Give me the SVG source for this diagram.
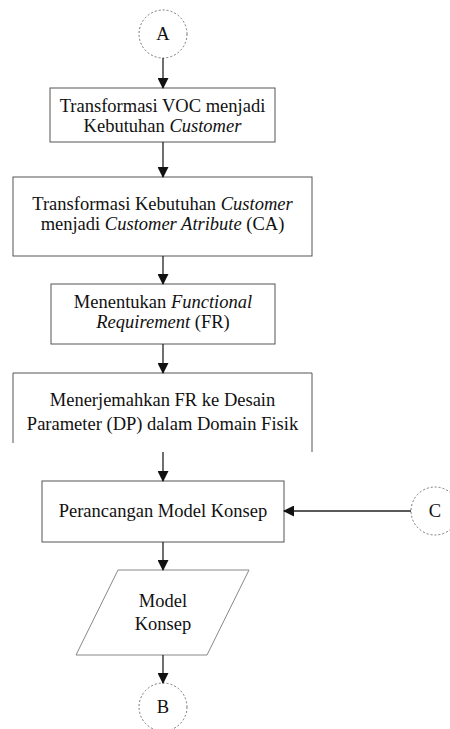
<svg xmlns="http://www.w3.org/2000/svg" width="450" height="729" viewBox="0 0 450 729">
<style>
  .box { fill: #ffffff; stroke: #555555; stroke-width: 1; }
  .term { fill: #ffffff; stroke: #777777; stroke-width: 1; stroke-dasharray: 2 2; }
  .io { fill: #ffffff; stroke: #888888; stroke-width: 1; }
  .lbl { font-family: "Liberation Serif", "Times New Roman", serif; font-size: 18.5px; fill: #111111; text-anchor: middle; }
  .it { font-style: italic; }
  .edge { stroke: #222222; stroke-width: 1.3; fill: none; marker-end: url(#arr); }
</style>
<defs>
  <marker id="arr" markerWidth="11" markerHeight="11" refX="10" refY="5.5" orient="auto" markerUnits="userSpaceOnUse">
    <path d="M0,0 L11,5.5 L0,11 Z" fill="#111111"/>
  </marker>
</defs>
<rect width="450" height="729" fill="#ffffff"/>

<g id="nodeA">
  <circle class="term" cx="163" cy="34" r="24"/>
  <text class="lbl" x="163" y="40">A</text>
</g>

<g id="node1">
  <rect class="box" x="50" y="88" width="225" height="54"/>
  <text class="lbl" x="162.5" y="112">Transformasi VOC menjadi</text>
  <text class="lbl" x="162.5" y="132">Kebutuhan <tspan class="it">Customer</tspan></text>
</g>

<g id="node2">
  <rect class="box" x="13" y="177" width="299" height="79"/>
  <text class="lbl" x="162.5" y="210">Transformasi Kebutuhan <tspan class="it">Customer</tspan></text>
  <text class="lbl" x="162.5" y="230">menjadi <tspan class="it">Customer Atribute</tspan> (CA)</text>
</g>

<g id="node3">
  <rect class="box" x="51" y="284" width="224" height="60"/>
  <text class="lbl" x="163" y="308">Menentukan <tspan class="it">Functional</tspan></text>
  <text class="lbl" x="163" y="328"><tspan class="it">Requirement</tspan> (FR)</text>
</g>

<g id="node4">
  <path class="box" d="M13,443 L13,373 L312,373 L312,452" fill="none"/>
  <text class="lbl" x="162.5" y="406">Menerjemahkan FR ke Desain</text>
  <text class="lbl" x="162.5" y="430">Parameter (DP) dalam Domain Fisik</text>
</g>

<g id="node5">
  <rect class="box" x="42" y="481" width="242" height="61"/>
  <text class="lbl" x="163" y="517">Perancangan Model Konsep</text>
</g>

<g id="nodeC">
  <circle class="term" cx="435" cy="511" r="24"/>
  <text class="lbl" x="435" y="517">C</text>
</g>

<g id="node6">
  <polygon class="io" points="118,570 249,570 207,655 76,655"/>
  <text class="lbl" x="163" y="607">Model</text>
  <text class="lbl" x="163" y="630">Konsep</text>
</g>

<g id="nodeB">
  <circle class="term" cx="163" cy="707" r="24"/>
  <text class="lbl" x="163" y="713">B</text>
</g>

<g id="connectors">
  <line class="edge" x1="163" y1="58" x2="163" y2="88"/>
  <line class="edge" x1="163" y1="142" x2="163" y2="177"/>
  <line class="edge" x1="163" y1="256" x2="163" y2="284"/>
  <line class="edge" x1="163" y1="344" x2="163" y2="373"/>
  <line class="edge" x1="163" y1="452" x2="163" y2="481"/>
  <line class="edge" x1="411" y1="511" x2="284" y2="511"/>
  <line class="edge" x1="163" y1="542" x2="163" y2="570"/>
  <line class="edge" x1="163" y1="655" x2="163" y2="683"/>
</g>
</svg>
